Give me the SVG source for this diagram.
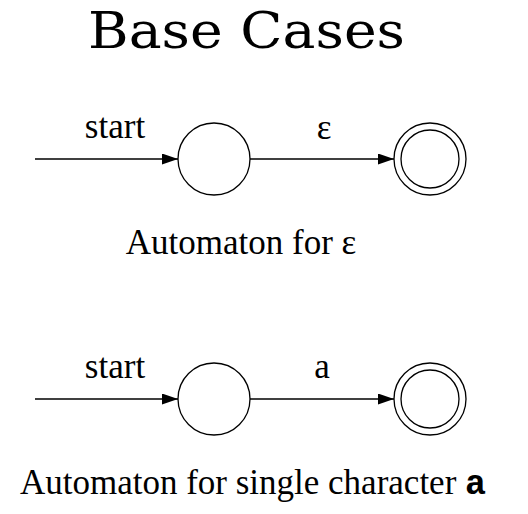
<svg xmlns="http://www.w3.org/2000/svg" width="528" height="514" viewBox="0 0 528 514">
<style>
.st{fill:none;stroke:#000;stroke-width:1.3}
.ln{stroke:#000;stroke-width:1.3;fill:none}
.lbl{font-family:'Liberation Serif','Times New Roman',serif;font-size:35px;fill:#000}
.mono{font-family:'Liberation Mono','Courier New',monospace;font-weight:bold}
.ttl{font-family:'DejaVu Serif',serif;font-size:50px;fill:#000}
</style>
<defs>
<marker id="ah" markerWidth="16" markerHeight="11" refX="16" refY="5.5" orient="auto" markerUnits="userSpaceOnUse">
<path d="M0,0 L16,5.5 L0,11 Z" fill="#000"/>
</marker>
</defs>
<text class="ttl" transform="translate(88,48) scale(1.106,1)" x="0" y="0">Base Cases</text>
<g id="connectors">
<line class="ln" x1="35" y1="159" x2="178" y2="159" marker-end="url(#ah)"/>
<line class="ln" x1="250" y1="159" x2="394" y2="159" marker-end="url(#ah)"/>
<line class="ln" x1="35" y1="399" x2="178" y2="399" marker-end="url(#ah)"/>
<line class="ln" x1="250" y1="399" x2="394" y2="399" marker-end="url(#ah)"/>
<text class="lbl" x="115" y="138" text-anchor="middle">start</text>
<text class="lbl" x="324" y="139" text-anchor="middle">ε</text>
<text class="lbl" x="115" y="378" text-anchor="middle">start</text>
<text class="lbl" x="322" y="378" text-anchor="middle">a</text>
</g>
<g id="q0"><circle class="st" cx="214" cy="159" r="36"/></g>
<g id="q1"><circle class="st" cx="430" cy="159" r="36"/><circle class="st" cx="430" cy="159" r="29"/></g>
<g id="q2"><circle class="st" cx="214" cy="399" r="36"/></g>
<g id="q3"><circle class="st" cx="430" cy="399" r="36"/><circle class="st" cx="430" cy="399" r="29"/></g>
<text class="lbl" x="241" y="254" text-anchor="middle">Automaton for ε</text>
<text class="lbl" x="253" y="494" text-anchor="middle">Automaton for single character <tspan class="mono">a</tspan></text>
</svg>
